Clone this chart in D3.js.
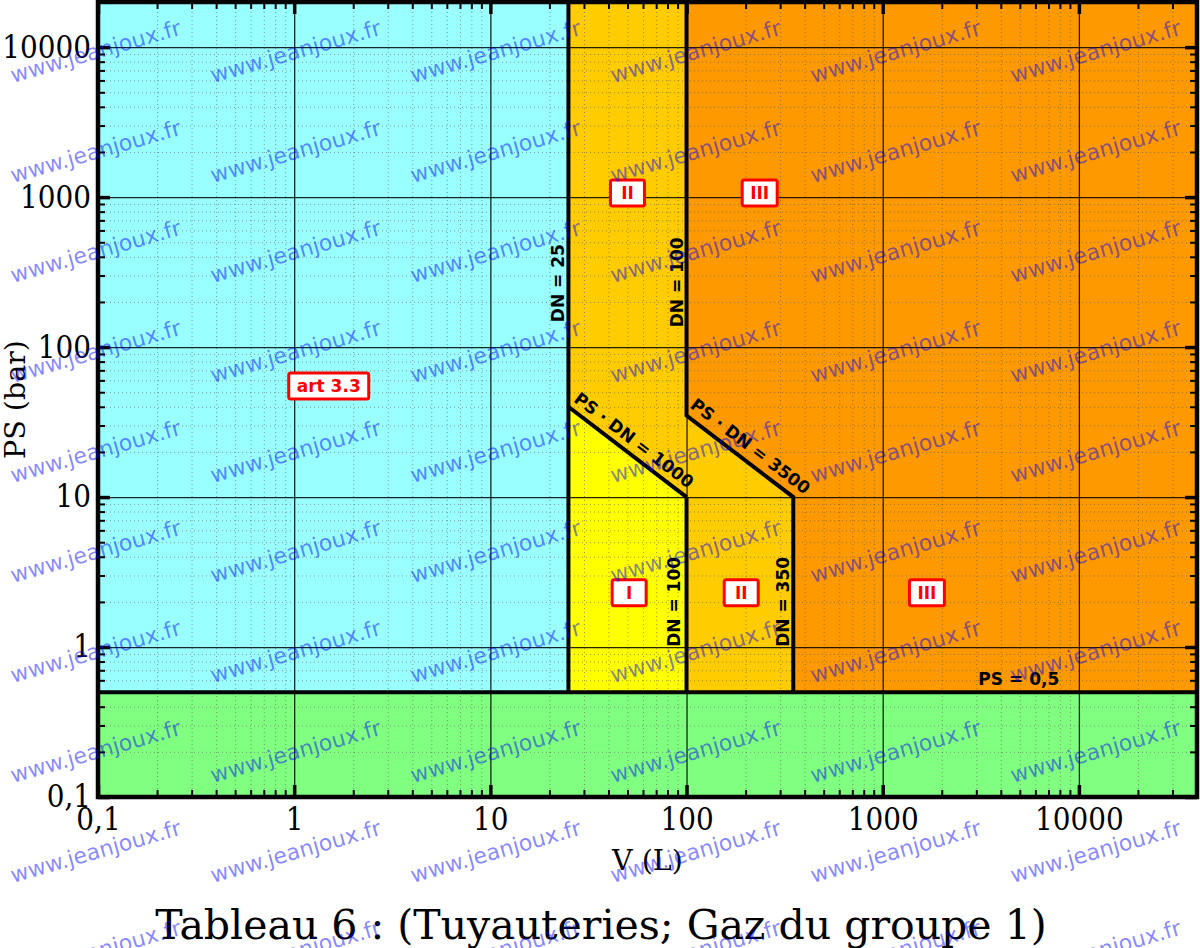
<!DOCTYPE html>
<html>
<head>
<meta charset="utf-8">
<script src="https://cdn.jsdelivr.net/npm/d3@7"></script>
<style>
  body { margin: 0; background: #fff; }
  svg { display: block; }
</style>
</head>
<body>
<div id="chart"></div>
<script>
// axis ranges: V in litres, PS in bar
const vDomain = [0.1, 40000];
const psDomain = [0.1, 20000];
const majorTicks = [0.1, 1, 10, 100, 1000, 10000];
const tickLabels = ['0,1', '1', '10', '100', '1000', '10000'];

// zones (category areas) as polygons of [V, PS]
const zoneNames = ['art33', 'green', 'yellow', 'gold', 'orange'];
const zoneArt33 = [[0.1, 0.5], [25, 0.5], [25, 20000], [0.1, 20000]];
const zoneGreen = [[0.1, 0.1], [40000, 0.1], [40000, 0.5], [0.1, 0.5]];
const zoneCat1 = [[25, 0.5], [100, 0.5], [100, 10], [25, 40]];
const zoneCat2 = [[25, 40], [100, 10], [100, 0.5], [350, 0.5], [350, 10], [100, 35], [100, 20000], [25, 20000]];
const zoneCat3 = [[100, 35], [350, 10], [350, 0.5], [40000, 0.5], [40000, 20000], [100, 20000]];

// thick boundaries between the zones
const limitPS05 = [[0.1, 0.5], [40000, 0.5]];
const limitDN25 = [[25, 0.5], [25, 20000]];
const limitPSDN1000 = [[25, 40], [100, 10]];
const limitDN100Low = [[100, 10], [100, 0.5]];
const limitUpper = [[100, 20000], [100, 35], [350, 10], [350, 0.5]];

// category boxes
const categoryText = ['II', 'III', 'art 3.3', 'I', 'II', 'III'];
const categoryV = [50, 236, 1.5, 51, 190, 1680];
const categoryPS = [1065, 1065, 55, 2.3, 2.3, 2.3];

// boundary captions
const limitText = ['DN = 25', 'DN = 100', 'DN = 100', 'DN = 350', 'PS \u00b7 DN = 1000', 'PS \u00b7 DN = 3500', 'PS = 0,5'];
const limitV = [22, 89, 86, 309, 54, 212, 4940];
const limitPS = [267, 270, 2.0, 2.0, 24, 21.9, 0.61];
const limitAlong = [null, null, null, null, limitPSDN1000, [[100, 35], [350, 10]], null];

const width = 1200;
const height = 948;
const plotLeft = 98, plotRight = 1197, plotTop = 2, plotBottom = 797;

const zoneColor = {
  art33: '#99ffff',
  green: '#80ff80',
  yellow: '#ffff00',
  gold: '#ffcc00',
  orange: '#ff9900'
};
const zonePoints = [zoneArt33, zoneGreen, zoneCat1, zoneCat2, zoneCat3];

const serifCond = '"DejaVu Serif Condensed", "DejaVu Serif", serif';
const serif = '"DejaVu Serif", serif';
const sans = '"DejaVu Sans", Verdana, sans-serif';

const x = d3.scaleLog().domain(vDomain).range([plotLeft, plotRight]);
const y = d3.scaleLog().domain(psDomain).range([plotBottom, plotTop]);

// 2..9 multiples of every decade
function minorTicks(domain) {
  let out = [];
  let e0 = Math.round(Math.log10(domain[0]));
  let e1 = Math.ceil(Math.log10(domain[1]));
  for (let e = e0; e < e1; e++) {
    for (let k = 2; k <= 9; k++) {
      let v = +(k * Math.pow(10, e)).toPrecision(3);
      if (v < domain[1]) out.push(v);
    }
  }
  return out;
}

const svg = d3.select('#chart')
  .append('svg')
  .attr('width', width)
  .attr('height', height);

const line = d3.line().x(d => x(d[0])).y(d => y(d[1]));

// zones
svg.append('g')
  .selectAll('path')
  .data(zonePoints)
  .enter()
  .append('path')
  .attr('d', d => line(d) + 'Z')
  .attr('fill', (d, i) => zoneColor[zoneNames[i]]);

// grid, minor then major
let grid = svg.append('g').attr('class', 'grid');
let gridAxes = [
  [d3.axisBottom(x).tickValues(minorTicks(vDomain)).tickSize(-(plotBottom - plotTop)), `translate(0,${plotBottom})`, 'minor'],
  [d3.axisLeft(y).tickValues(minorTicks(psDomain)).tickSize(-(plotRight - plotLeft)), `translate(${plotLeft},0)`, 'minor'],
  [d3.axisBottom(x).tickValues(majorTicks.slice(1)).tickSize(-(plotBottom - plotTop)), `translate(0,${plotBottom})`, 'major'],
  [d3.axisLeft(y).tickValues(majorTicks.slice(1)).tickSize(-(plotRight - plotLeft)), `translate(${plotLeft},0)`, 'major']
];
gridAxes.forEach(([axis, tr, kind]) => {
  let g = grid.append('g')
    .attr('transform', tr)
    .call(axis.tickFormat('').tickSizeOuter(0));
  g.select('.domain').remove();
  g.selectAll('line')
    .attr('stroke', kind === 'major' ? '#000' : '#444')
    .attr('stroke-opacity', kind === 'major' ? 0.85 : 0.5)
    .attr('stroke-width', kind === 'major' ? 1.3 : 1)
    .attr('stroke-dasharray', kind === 'major' ? null : '1,3');
});

// thick limits
svg.append('g')
  .selectAll('path')
  .data([limitPS05, limitDN25, limitPSDN1000, limitDN100Low, limitUpper])
  .enter()
  .append('path')
  .attr('d', line)
  .attr('fill', 'none')
  .attr('stroke', '#000')
  .attr('stroke-width', 4)
  .attr('stroke-linejoin', 'miter');

// inward ticks on the four sides
let ticks = svg.append('g').attr('class', 'ticks');
let tickAxes = [
  [d3.axisBottom, x, `translate(0,${plotBottom})`, vDomain],
  [d3.axisTop, x, `translate(0,${plotTop})`, vDomain],
  [d3.axisLeft, y, `translate(${plotLeft},0)`, psDomain],
  [d3.axisRight, y, `translate(${plotRight},0)`, psDomain]
];
tickAxes.forEach(([make, scale, tr, dom]) => {
  [['minor', minorTicks(dom), 7, 2], ['major', majorTicks, 12, 3.5]].forEach(([kind, vals, len, w]) => {
    let g = ticks.append('g')
      .attr('transform', tr)
      .call(make(scale).tickValues(vals).tickSize(-len).tickSizeOuter(0).tickFormat(''));
    g.select('.domain').remove();
    g.selectAll('line').attr('stroke', '#000').attr('stroke-width', w);
  });
});

// frame
svg.append('rect')
  .attr('x', plotLeft)
  .attr('y', plotTop)
  .attr('width', plotRight - plotLeft)
  .attr('height', plotBottom - plotTop)
  .attr('fill', 'none')
  .attr('stroke', '#000')
  .attr('stroke-width', 4.5);

// tick labels
let xLabels = svg.append('g')
  .attr('transform', `translate(0,${plotBottom})`)
  .call(d3.axisBottom(x).tickValues(majorTicks).tickSize(0).tickPadding(11)
    .tickFormat((d, i) => tickLabels[i]));
let yLabels = svg.append('g')
  .attr('transform', `translate(${plotLeft},0)`)
  .call(d3.axisLeft(y).tickValues(majorTicks).tickSize(0).tickPadding(7)
    .tickFormat((d, i) => tickLabels[i]));
[xLabels, yLabels].forEach(g => {
  g.select('.domain').remove();
  g.selectAll('text')
    .attr('fill', '#000')
    .style('font-family', serifCond)
    .style('font-stretch', 'condensed')
    .style('font-size', '31px');
});

// axis titles and caption
svg.append('text')
  .attr('x', (plotLeft + plotRight) / 2)
  .attr('y', 870)
  .attr('text-anchor', 'middle')
  .style('font-family', serif)
  .style('font-size', '28.5px')
  .text('V (L)');

svg.append('text')
  .attr('transform', `translate(25,${(plotTop + plotBottom) / 2}) rotate(-90)`)
  .attr('text-anchor', 'middle')
  .style('font-family', serif)
  .style('font-size', '28.5px')
  .text('PS (bar)');

svg.append('text')
  .attr('x', 601)
  .attr('y', 939)
  .attr('text-anchor', 'middle')
  .style('font-family', serif)
  .style('font-size', '41px')
  .text('Tableau 6 : (Tuyauteries; Gaz du groupe 1)');

// captions of the limits
function angleOf(seg) {
  let dx = x(seg[1][0]) - x(seg[0][0]);
  let dy = y(seg[1][1]) - y(seg[0][1]);
  return Math.atan2(dy, dx) * 180 / Math.PI;
}
svg.append('g')
  .selectAll('text')
  .data(limitText)
  .enter()
  .append('text')
  .attr('transform', (d, i) => {
    let a = limitAlong[i] ? angleOf(limitAlong[i]) : (d.startsWith('DN') ? -90 : 0);
    return `translate(${x(limitV[i])},${y(limitPS[i])}) rotate(${a})`;
  })
  .attr('text-anchor', 'middle')
  .attr('dy', '0.36em')
  .style('font-family', sans)
  .style('font-weight', 'bold')
  .style('font-size', '17px')
  .attr('fill', '#000')
  .text(d => d);

// category boxes
let boxes = svg.append('g')
  .selectAll('g')
  .data(categoryText)
  .enter()
  .append('g')
  .attr('transform', (d, i) => `translate(${x(categoryV[i])},${y(categoryPS[i])})`);
boxes.append('rect');
boxes.append('text')
  .attr('text-anchor', 'middle')
  .attr('dy', '0.36em')
  .style('font-family', sans)
  .style('font-weight', 'bold')
  .style('font-size', '17px')
  .attr('fill', '#ff0000')
  .text(d => d);
boxes.each(function() {
  let g = d3.select(this);
  let w = Math.max(g.select('text').node().getComputedTextLength() + 16, 34);
  g.select('rect')
    .attr('x', -w / 2)
    .attr('y', -13)
    .attr('width', w)
    .attr('height', 26)
    .attr('rx', 2)
    .attr('fill', '#fff')
    .attr('stroke', '#ff0000')
    .attr('stroke-width', 3);
});

// watermark over everything
let marks = [];
d3.range(13, width, 200).forEach(mx => {
  d3.range(83, height + 60, 100).forEach(my => marks.push([mx, my]));
});
svg.append('g')
  .attr('pointer-events', 'none')
  .selectAll('text')
  .data(marks)
  .enter()
  .append('text')
  .attr('transform', d => `translate(${d[0]},${d[1]}) rotate(-16)`)
  .style('font-family', sans)
  .style('font-size', '22px')
  .attr('fill', '#0000ff')
  .attr('fill-opacity', 0.48)
  .text('www.jeanjoux.fr');
</script>
</body>
</html>
